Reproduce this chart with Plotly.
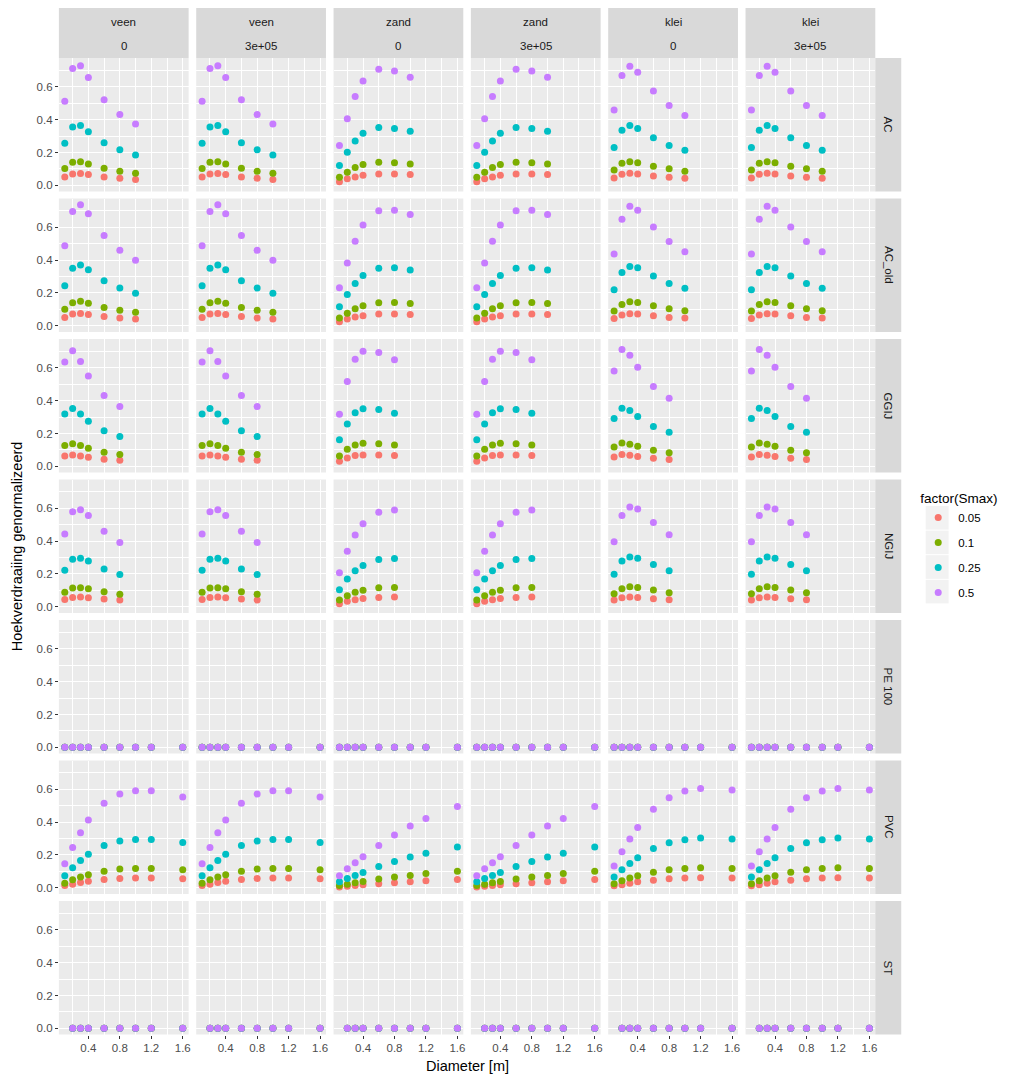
import plotly.graph_objects as go

# ---------------------------------------------------------------------------
# Data
# ---------------------------------------------------------------------------
SMAX_LEVELS = ["0.05", "0.1", "0.25", "0.5"]
SMAX_COLORS = ["#F8766D", "#7CAE00", "#00BFC4", "#C77CFF"]

SOILS = ["veen", "zand", "klei"]
LOADS = ["0", "3e+05"]
MATERIALS = ["AC", "AC_old", "GGIJ", "NGIJ", "PE 100", "PVC", "ST"]

# diameters [m] present for each pipe material
D_AC = [0.1, 0.2, 0.3, 0.4, 0.6, 0.8, 1.0]
D_GIJ = [0.1, 0.2, 0.3, 0.4, 0.6, 0.8]
D_ALL = [0.1, 0.2, 0.3, 0.4, 0.6, 0.8, 1.0, 1.2, 1.6]
D_ST = [0.2, 0.3, 0.4, 0.6, 0.8, 1.0, 1.2, 1.6]

# normalised rotation, one row per Smax level (0.05, 0.1, 0.25, 0.5)
AC_VEEN = [
    [0.051, 0.069, 0.071, 0.065, 0.051, 0.043, 0.035],
    [0.102, 0.140, 0.144, 0.130, 0.104, 0.085, 0.073],
    [0.256, 0.356, 0.364, 0.327, 0.260, 0.216, 0.185],
    [0.512, 0.712, 0.728, 0.657, 0.521, 0.431, 0.374],
]
AC_ZAND = [
    [0.022, 0.039, 0.051, 0.061, 0.069, 0.069, 0.065],
    [0.049, 0.079, 0.108, 0.126, 0.140, 0.138, 0.130],
    [0.120, 0.201, 0.270, 0.317, 0.352, 0.346, 0.329],
    [0.242, 0.405, 0.541, 0.635, 0.708, 0.696, 0.659],
]
AC_KLEI = [
    [0.045, 0.067, 0.073, 0.069, 0.057, 0.049, 0.043],
    [0.093, 0.134, 0.144, 0.138, 0.116, 0.100, 0.085],
    [0.230, 0.336, 0.364, 0.346, 0.289, 0.242, 0.214],
    [0.459, 0.669, 0.726, 0.689, 0.575, 0.486, 0.425],
]

AC_OLD_VEEN = [
    [0.051, 0.071, 0.075, 0.069, 0.057, 0.047, 0.041],
    [0.100, 0.140, 0.149, 0.137, 0.112, 0.094, 0.082],
    [0.244, 0.350, 0.370, 0.341, 0.274, 0.230, 0.199],
    [0.488, 0.697, 0.738, 0.683, 0.551, 0.460, 0.399],
]
AC_OLD_ZAND = [
    [0.024, 0.041, 0.053, 0.061, 0.071, 0.071, 0.069],
    [0.047, 0.077, 0.104, 0.122, 0.140, 0.142, 0.136],
    [0.116, 0.191, 0.258, 0.307, 0.350, 0.354, 0.340],
    [0.232, 0.382, 0.516, 0.614, 0.701, 0.705, 0.679],
]
AC_OLD_KLEI = [
    [0.045, 0.065, 0.073, 0.071, 0.061, 0.051, 0.047],
    [0.090, 0.130, 0.146, 0.142, 0.122, 0.104, 0.091],
    [0.220, 0.325, 0.362, 0.354, 0.303, 0.258, 0.228],
    [0.437, 0.649, 0.728, 0.705, 0.602, 0.514, 0.451],
]

GGIJ_VEEN = [
    [0.063, 0.069, 0.063, 0.055, 0.043, 0.037],
    [0.126, 0.138, 0.126, 0.110, 0.085, 0.071],
    [0.319, 0.352, 0.319, 0.275, 0.216, 0.181],
    [0.636, 0.704, 0.639, 0.551, 0.431, 0.364],
]
GGIJ_ZAND = [
    [0.031, 0.051, 0.065, 0.069, 0.069, 0.065],
    [0.063, 0.104, 0.130, 0.140, 0.138, 0.130],
    [0.161, 0.258, 0.327, 0.350, 0.346, 0.323],
    [0.317, 0.517, 0.653, 0.702, 0.694, 0.649],
]
GGIJ_KLEI = [
    [0.057, 0.071, 0.067, 0.059, 0.049, 0.041],
    [0.118, 0.142, 0.134, 0.122, 0.098, 0.083],
    [0.291, 0.354, 0.340, 0.303, 0.242, 0.207],
    [0.581, 0.712, 0.677, 0.604, 0.486, 0.415],
]

NGIJ_VEEN = [
    [0.045, 0.057, 0.059, 0.055, 0.047, 0.041],
    [0.088, 0.114, 0.116, 0.110, 0.092, 0.077],
    [0.222, 0.290, 0.296, 0.279, 0.230, 0.196],
    [0.443, 0.579, 0.592, 0.557, 0.461, 0.392],
]
NGIJ_ZAND = [
    [0.018, 0.034, 0.043, 0.051, 0.057, 0.059],
    [0.041, 0.067, 0.088, 0.100, 0.116, 0.118],
    [0.104, 0.169, 0.220, 0.251, 0.288, 0.294],
    [0.208, 0.339, 0.437, 0.506, 0.577, 0.590],
]
NGIJ_KLEI = [
    [0.041, 0.055, 0.059, 0.057, 0.049, 0.043],
    [0.080, 0.110, 0.122, 0.118, 0.102, 0.086],
    [0.198, 0.279, 0.304, 0.296, 0.257, 0.220],
    [0.396, 0.557, 0.608, 0.596, 0.514, 0.439],
]

PE100_ALL = [
    [0, 0, 0, 0, 0, 0, 0, 0, 0],
    [0, 0, 0, 0, 0, 0, 0, 0, 0],
    [0, 0, 0, 0, 0, 0, 0, 0, 0],
    [0, 0, 0, 0, 0, 0, 0, 0, 0],
]

PVC_VEEN = [
    [0.014, 0.022, 0.032, 0.040, 0.051, 0.057, 0.059, 0.059, 0.055],
    [0.028, 0.049, 0.065, 0.079, 0.101, 0.114, 0.118, 0.118, 0.110],
    [0.073, 0.122, 0.167, 0.205, 0.258, 0.285, 0.295, 0.295, 0.276],
    [0.146, 0.246, 0.336, 0.413, 0.516, 0.571, 0.592, 0.592, 0.553],
]
PVC_ZAND = [
    [0.004, 0.010, 0.014, 0.018, 0.024, 0.030, 0.037, 0.043, 0.051],
    [0.014, 0.022, 0.030, 0.038, 0.053, 0.065, 0.075, 0.087, 0.101],
    [0.037, 0.057, 0.075, 0.093, 0.130, 0.160, 0.187, 0.211, 0.248],
    [0.073, 0.116, 0.153, 0.189, 0.258, 0.321, 0.376, 0.423, 0.496],
]
PVC_KLEI = [
    [0.012, 0.018, 0.028, 0.037, 0.046, 0.055, 0.059, 0.061, 0.059],
    [0.024, 0.043, 0.059, 0.073, 0.095, 0.110, 0.118, 0.122, 0.118],
    [0.065, 0.110, 0.148, 0.183, 0.240, 0.275, 0.293, 0.303, 0.297],
    [0.132, 0.220, 0.297, 0.368, 0.478, 0.549, 0.590, 0.606, 0.596],
]

ST_ALL = [
    [0, 0, 0, 0, 0, 0, 0, 0],
    [0, 0, 0, 0, 0, 0, 0, 0],
    [0, 0, 0, 0, 0, 0, 0, 0],
    [0, 0, 0, 0, 0, 0, 0, 0],
]

PANEL_DATA = {
    "AC": (D_AC, {"veen": AC_VEEN, "zand": AC_ZAND, "klei": AC_KLEI}),
    "AC_old": (D_AC, {"veen": AC_OLD_VEEN, "zand": AC_OLD_ZAND, "klei": AC_OLD_KLEI}),
    "GGIJ": (D_GIJ, {"veen": GGIJ_VEEN, "zand": GGIJ_ZAND, "klei": GGIJ_KLEI}),
    "NGIJ": (D_GIJ, {"veen": NGIJ_VEEN, "zand": NGIJ_ZAND, "klei": NGIJ_KLEI}),
    "PE 100": (D_ALL, {"veen": PE100_ALL, "zand": PE100_ALL, "klei": PE100_ALL}),
    "PVC": (D_ALL, {"veen": PVC_VEEN, "zand": PVC_ZAND, "klei": PVC_KLEI}),
    "ST": (D_ST, {"veen": ST_ALL, "zand": ST_ALL, "klei": ST_ALL}),
}

X_TICKS = [0.4, 0.8, 1.2, 1.6]
X_MINOR = [0.2, 0.6, 1.0, 1.4]
Y_TICKS = [0.0, 0.2, 0.4, 0.6]
Y_MINOR = [0.1, 0.3, 0.5, 0.7]

# ---------------------------------------------------------------------------
# Layout geometry (pixels)
# ---------------------------------------------------------------------------
W, H = 1021, 1075
FONT = "Liberation Sans, Arial, sans-serif"
PANEL_L0, PANEL_W, COL_STEP = 59.0, 130.0, 137.6
PANEL_T0, PANEL_H, ROW_STEP = 58.0, 133.5, 140.5
STRIP_TOP = 8.0
STRIP_RIGHT_W = 26.0

# legend key boxes
KEY_LEFT, KEY_W = 927.5, 23.0
KEY_TOP0, KEY_STEP = 506.0, 24.6

columns = [(s, l) for s in SOILS for l in LOADS]
n_cols = len(columns)
n_rows = len(MATERIALS)

fig = go.Figure()
shapes = []
annotations = []


def px_x(v):
    return v / W


def px_y(v):
    return 1 - v / H


for r, material in enumerate(MATERIALS):
    diam, by_soil = PANEL_DATA[material]
    top = PANEL_T0 + r * ROW_STEP
    bottom = top + PANEL_H
    for c, (soil, load) in enumerate(columns):
        idx = r * n_cols + c + 1
        left = PANEL_L0 + c * COL_STEP
        right = left + PANEL_W
        xa = "x" if idx == 1 else f"x{idx}"
        ya = "y" if idx == 1 else f"y{idx}"
        series = by_soil[soil]
        for k, level in enumerate(SMAX_LEVELS):
            fig.add_trace(go.Scatter(
                x=diam, y=series[k], mode="markers",
                marker=dict(color=SMAX_COLORS[k], size=7, line=dict(width=0)),
                name=level, legendgroup=level,
                showlegend=(idx == 1),
                xaxis=xa, yaxis=ya,
                hovertemplate="D=%{x}<br>%{y}<extra>" + level + "</extra>",
            ))
        is_bottom = r == n_rows - 1
        is_left = c == 0
        fig.layout[("xaxis" if idx == 1 else f"xaxis{idx}")] = dict(
            domain=[px_x(left), px_x(right)], anchor=ya,
            range=[0.025, 1.675],
            tickvals=X_TICKS, ticktext=[f"{v:.1f}" for v in X_TICKS],
            showticklabels=is_bottom,
            ticks="outside" if is_bottom else "", ticklen=3, tickwidth=1,
            tickcolor="#333333",
            tickfont=dict(family=FONT, size=11.5, color="#4D4D4D"),
            showgrid=True, gridcolor="white", gridwidth=1.1,
            minor=dict(tickvals=X_MINOR, showgrid=True, gridcolor="white", gridwidth=0.5),
            zeroline=False, showline=False, fixedrange=True,
        )
        fig.layout[("yaxis" if idx == 1 else f"yaxis{idx}")] = dict(
            domain=[px_y(bottom), px_y(top)], anchor=xa,
            range=[-0.038, 0.776],
            tickvals=Y_TICKS, ticktext=[f"{v:.1f}" for v in Y_TICKS],
            showticklabels=is_left,
            ticks="outside" if is_left else "", ticklen=3, tickwidth=1,
            tickcolor="#333333",
            tickfont=dict(family=FONT, size=11.5, color="#4D4D4D"),
            showgrid=True, gridcolor="white", gridwidth=1.1,
            minor=dict(tickvals=Y_MINOR, showgrid=True, gridcolor="white", gridwidth=0.5),
            zeroline=False, showline=False, fixedrange=True,
        )

        # column strips along the top row
        if r == 0:
            shapes.append(dict(type="rect", xref="paper", yref="paper",
                               x0=px_x(left), x1=px_x(right),
                               y0=px_y(top), y1=px_y(STRIP_TOP),
                               fillcolor="#D9D9D9", line=dict(width=0), layer="below"))
            cx = px_x((left + right) / 2)
            annotations.append(dict(text=soil, x=cx, y=px_y(22), xref="paper", yref="paper",
                                    showarrow=False, xanchor="center", yanchor="middle",
                                    font=dict(family=FONT, size=11.5, color="#1A1A1A")))
            annotations.append(dict(text=load, x=cx, y=px_y(46), xref="paper", yref="paper",
                                    showarrow=False, xanchor="center", yanchor="middle",
                                    font=dict(family=FONT, size=11.5, color="#1A1A1A")))

    # row strip on the right
    last_right = PANEL_L0 + (n_cols - 1) * COL_STEP + PANEL_W
    shapes.append(dict(type="rect", xref="paper", yref="paper",
                       x0=px_x(last_right), x1=px_x(last_right + STRIP_RIGHT_W),
                       y0=px_y(bottom), y1=px_y(top),
                       fillcolor="#D9D9D9", line=dict(width=0), layer="below"))
    annotations.append(dict(text=material, x=px_x(last_right + STRIP_RIGHT_W / 2),
                            y=px_y((top + bottom) / 2), xref="paper", yref="paper",
                            showarrow=False, textangle=90, xanchor="center", yanchor="middle",
                            font=dict(family=FONT, size=11.5, color="#1A1A1A")))

# grey background behind each legend key
for k in range(len(SMAX_LEVELS)):
    y0 = KEY_TOP0 + k * KEY_STEP
    shapes.append(dict(type="rect", xref="paper", yref="paper",
                       x0=px_x(KEY_LEFT), x1=px_x(KEY_LEFT + KEY_W),
                       y0=px_y(y0 + KEY_STEP - 1), y1=px_y(y0),
                       fillcolor="#F2F2F2", line=dict(width=0), layer="below"))

grid_left = PANEL_L0
grid_right = PANEL_L0 + (n_cols - 1) * COL_STEP + PANEL_W
grid_top = PANEL_T0
grid_bottom = PANEL_T0 + (n_rows - 1) * ROW_STEP + PANEL_H

annotations.append(dict(text="Diameter [m]", x=px_x((grid_left + grid_right) / 2), y=px_y(1066),
                        xref="paper", yref="paper", showarrow=False,
                        xanchor="center", yanchor="middle",
                        font=dict(family=FONT, size=14.5, color="black")))
annotations.append(dict(text="Hoekverdraaiing genormalizeerd", x=px_x(17),
                        y=px_y((grid_top + grid_bottom) / 2),
                        xref="paper", yref="paper", showarrow=False, textangle=-90,
                        xanchor="center", yanchor="middle",
                        font=dict(family=FONT, size=14.5, color="black")))

fig.update_layout(
    width=W, height=H, autosize=False,
    margin=dict(l=0, r=0, t=0, b=0),
    paper_bgcolor="white", plot_bgcolor="#EBEBEB",
    shapes=shapes, annotations=annotations,
    showlegend=True,
    legend=dict(
        title=dict(text="factor(Smax)", font=dict(family=FONT, size=13.5, color="black")),
        font=dict(family=FONT, size=11.5, color="black"),
        x=px_x(920), y=px_y(485.5), xanchor="left", yanchor="top",
        bgcolor="rgba(0,0,0,0)", tracegroupgap=6,
    ),
    hovermode="closest",
)

fig.write_html("out.html")
